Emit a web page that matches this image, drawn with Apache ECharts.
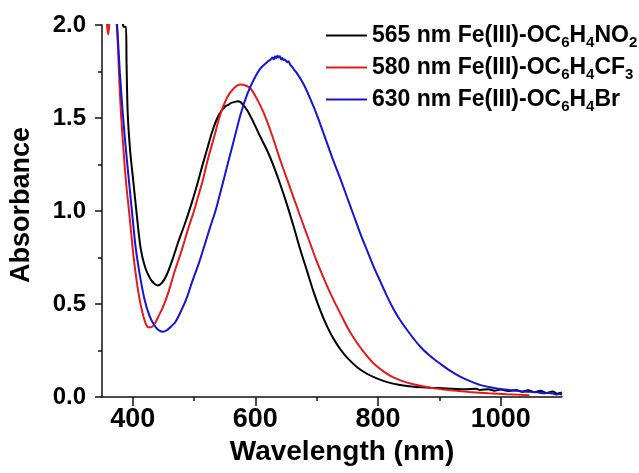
<!DOCTYPE html>
<html>
<head>
<meta charset="utf-8">
<script src="https://cdn.jsdelivr.net/npm/echarts@6/dist/echarts.min.js"></script>
<style>html,body{margin:0;padding:0;background:#fff}#c{width:639px;height:473px}</style>
</head>
<body>
<div id="c"></div>
<script>
// ---- data (wavelength nm, absorbance) ----
var seriesNames = ['NO2', 'CF3', 'Br'];
var legendParts = [
  ['565 nm Fe(III)-OC', '6', 'H', '4', 'NO', '2'],
  ['580 nm Fe(III)-OC', '6', 'H', '4', 'CF', '3'],
  ['630 nm Fe(III)-OC', '6', 'H', '4', 'Br', '']
];
var xTickLabels = [400, 600, 800, 1000];
var xMinorTicks = [500, 700, 900];

var dataNO2 = [
  [350,2.6],[380,2.3],[384,2.02],[385,1.99],[389,1.99],[390,1.8],[392,1.52],[396,1.32],[401,1.16],
  [407,0.97],[413,0.80],[420,0.70],[428,0.64],[435,0.61],[441,0.60],[448,0.615],[456,0.66],
  [465,0.74],[475,0.84],[485,0.93],[495,1.03],[505,1.14],[515,1.26],[522,1.34],[530,1.43],
  [538,1.50],[545,1.54],[549,1.555],[552,1.565],[556,1.57],[560,1.58],
  [565,1.585],[571,1.59],[576,1.585],[580,1.57],[587,1.54],[598,1.47],[608,1.40],[620,1.32],
  [630,1.24],[641,1.14],[652,1.03],[663,0.91],[674,0.785],[685,0.67],[695,0.565],[706,0.465],
  [717,0.38],[728,0.31],[739,0.255],[750,0.21],[766,0.16],[782,0.125],[798,0.10],[815,0.08],
  [836,0.065],[858,0.055],[885,0.05],[912,0.046],[940,0.042],[960,0.045],[966,0.038],[980,0.042],
  [990,0.034],[1000,0.04],[1012,0.032],[1025,0.038],[1035,0.028],[1045,0.036],[1055,0.026],
  [1065,0.033],[1075,0.022],[1085,0.03],[1092,0.018],[1100,0.024]
];
var dataCF3 = [
  [350,2.5],[356,2.3],[358,2.02],[360,1.95],[362,2.02],[364,2.3],[370,2.4],[373,2.05],[375,1.95],
  [378,1.72],[381,1.52],[385,1.33],[389,1.16],[395,0.97],[400,0.80],[405,0.66],[411,0.53],
  [417,0.44],[424,0.378],[430,0.375],[437,0.40],[443,0.44],[449,0.48],[458,0.56],[467,0.66],
  [474,0.73],[481,0.80],[490,0.90],[500,1.00],[506,1.07],[514,1.16],[522,1.27],[533,1.40],
  [543,1.52],[554,1.61],[565,1.66],[576,1.68],[584,1.675],[592,1.66],[603,1.60],[614,1.525],
  [627,1.41],[641,1.27],[655,1.14],[668,1.02],[680,0.91],[690,0.82],[700,0.73],[710,0.65],
  [720,0.575],[730,0.505],[740,0.44],[750,0.375],[760,0.32],[776,0.245],[793,0.18],[810,0.135],
  [825,0.105],[845,0.08],[869,0.06],[895,0.045],[923,0.035],[950,0.027],[980,0.02],[1010,0.015],
  [1047,0.01]
];
var dataBr = [
  [350,2.5],[372,2.1],[375,1.98],[379,1.75],[384,1.52],[389,1.33],[394,1.16],[400,0.96],
  [405,0.80],[412,0.65],[419,0.53],[427,0.44],[435,0.387],[442,0.36],[449,0.351],[456,0.36],
  [463,0.38],[470,0.405],[480,0.47],[489,0.54],[497,0.62],[508,0.72],[519,0.835],[527,0.92],
  [535,1.0],[543,1.10],[554,1.24],[565,1.38],[576,1.52],[587,1.63],[598,1.71],[608,1.765],
  [619,1.80],[625,1.815],[628,1.825],[630,1.815],[632,1.83],[634,1.82],[636,1.835],[638,1.825],
  [640,1.832],[642,1.815],[644,1.822],[646,1.81],[648,1.815],[652,1.80],[654,1.805],[657,1.785],
  [660,1.775],[663,1.76],[668,1.74],[679,1.68],[690,1.60],[700,1.52],[711,1.42],[725,1.29],
  [739,1.17],[750,1.07],[760,0.98],[771,0.88],[782,0.79],[793,0.70],[804,0.62],[815,0.54],
  [825,0.475],[836,0.414],[852,0.34],[869,0.27],[885,0.22],[901,0.18],[918,0.14],[934,0.109],
  [950,0.085],[966,0.065],[983,0.052],[999,0.043],[1020,0.035],[1035,0.03],[1047,0.028],
  [1060,0.025],[1070,0.02],[1080,0.022],[1090,0.014],[1096,0.016],[1100,0.012]
];
var seriesData = [dataNO2, dataCF3, dataBr];
var seriesColors = ['#000000', '#e41a1c', '#1414d2'];

var FONT = '"Liberation Sans", Arial, sans-serif';
var chart = echarts.init(document.getElementById('c'), null, {renderer: 'canvas'});

var rich = {
  t: {fontSize: 23, fontWeight: 'bold', fontFamily: FONT, color: '#000'},
  s: {fontSize: 15, fontWeight: 'bold', fontFamily: FONT, color: '#000', padding: [14, 0, 0, 0]}
};

var option = {
  backgroundColor: '#fff',
  animation: false,
  grid: {left: 101, top: 25, width: 461, height: 372},
  legend: {
    orient: 'vertical', left: 321, top: 19, itemGap: 6,
    icon: 'rect', itemWidth: 41, itemHeight: 2,
    data: seriesNames,
    formatter: function (name) {
      var p = legendParts[seriesNames.indexOf(name)];
      var s = '{t|' + p[0] + '}{s|' + p[1] + '}{t|' + p[2] + '}{s|' + p[3] + '}{t|' + p[4] + '}';
      if (p[5]) s += '{s|' + p[5] + '}';
      return s;
    },
    textStyle: {rich: rich}
  },
  xAxis: [{
    type: 'value', min: 350, max: 1100,
    name: 'Wavelength (nm)', nameLocation: 'middle', nameGap: 39,
    nameTextStyle: {fontSize: 28, fontWeight: 'bold', fontFamily: FONT, color: '#000', padding: [0, 0, 0, 20]},
    axisLine: {show: true, lineStyle: {color: '#111', width: 1.5}},
    axisTick: {show: true, inside: false, length: 9, lineStyle: {color: '#111', width: 1.5}, customValues: xTickLabels},
    axisLabel: {show: true, margin: 9, fontSize: 27, fontWeight: 'bold', fontFamily: FONT, color: '#000',
      customValues: xTickLabels, formatter: function (v) { return String(v); }},
    splitLine: {show: false}
  }, {
    type: 'value', min: 350, max: 1100, position: 'bottom', offset: 0, gridIndex: 0,
    axisLine: {show: false},
    axisTick: {show: true, inside: false, length: 4, lineStyle: {color: '#111', width: 1.5}, customValues: xMinorTicks},
    axisLabel: {show: false},
    splitLine: {show: false}
  }],
  yAxis: {
    type: 'value', min: 0, max: 2, interval: 0.5,
    name: 'Absorbance', nameLocation: 'middle', nameGap: 67,
    nameTextStyle: {fontSize: 27, fontWeight: 'bold', fontFamily: FONT, color: '#000', padding: [0, 0, 0, 12]},
    axisLine: {show: true, lineStyle: {color: '#111', width: 1.5}},
    axisTick: {show: true, inside: false, length: 7, lineStyle: {color: '#111', width: 1.5}},
    minorTick: {show: true, splitNumber: 2, length: 4, lineStyle: {color: '#111', width: 1.5}},
    axisLabel: {margin: 16, fontSize: 24, fontWeight: 'bold', fontFamily: FONT, color: '#000',
      formatter: function (v) { return v.toFixed(1); }},
    splitLine: {show: false}
  },
  series: seriesNames.map(function (n, i) {
    return {
      name: n, type: 'line', data: seriesData[i], xAxisIndex: 0,
      showSymbol: false, symbol: 'none', smooth: 0.3, clip: true,
      lineStyle: {color: seriesColors[i], width: 2}, itemStyle: {color: seriesColors[i]}
    };
  })
};
chart.setOption(option);
</script>
</body>
</html>
